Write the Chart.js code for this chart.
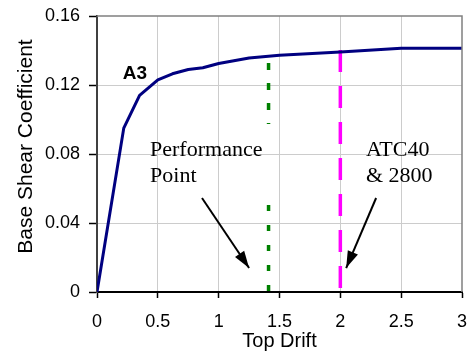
<!DOCTYPE html>
<html>
<head>
<meta charset="utf-8">
<script src="https://cdn.jsdelivr.net/npm/chart.js@4"></script>
<style>
  html, body { margin: 0; padding: 0; background: #fff; }
  canvas { display: block; }
</style>
</head>
<body>
<canvas id="c" width="468" height="358"></canvas>
<script>
// ---- data ----
const drift = [0, 0.22, 0.35, 0.5, 0.62, 0.75, 0.87, 1.0, 1.25, 1.5, 2.0, 2.5, 3.0];
const shear = [0, 0.095, 0.114, 0.123, 0.1265, 0.129, 0.130, 0.1325, 0.1357, 0.1373, 0.1392, 0.1413, 0.1413];

const perfX = [1.41, 1.41];
const perfTopY = [0.1327, 0.0974];
const perfLowY = [0.0504, 0];

const atcX = [2.0, 2.0];
const atcY = [0.1403, 0];

const arrow1X = [0.863, 1.25];
const arrow1Y = [0.0545, 0.0139];
const arrow2X = [2.294, 2.048];
const arrow2Y = [0.0545, 0.0139];

const xTickLabels = ['0', '0.5', '1', '1.5', '2', '2.5', '3'];
const yTickLabels = ['0', '0.04', '0.08', '0.12', '0.16'];

const xTitle = 'Top Drift';
const yTitle = 'Base Shear Coefficient';
const curveLabel = 'A3';
const perfLabel = ['Performance', 'Point'];
const atcLabel = ['ATC40', '& 2800'];
// anchors in data units (left, baseline of first line)
const curveLabelAt = [0.211, 0.1233];
const perfLabelAt = [0.436, 0.0788];
const atcLabelAt = [2.21, 0.0788];

const pts = (xs, ys) => xs.map((x, i) => ({ x: x, y: ys[i] }));

const SANS = "'Liberation Sans', Arial, sans-serif";
const SERIF = "'Liberation Serif', 'Times New Roman', serif";

const annotPlugin = {
  id: 'annot',
  afterDatasetsDraw(chart) {
    const ctx = chart.ctx;
    const xs = chart.scales.x, ys = chart.scales.y;
    const ca = chart.chartArea;
    ctx.save();
    // top and right frame
    ctx.strokeStyle = '#808080';
    ctx.lineWidth = 1.5;
    ctx.beginPath();
    ctx.moveTo(ca.left, ca.top);
    ctx.lineTo(ca.right, ca.top);
    ctx.lineTo(ca.right, ca.bottom);
    ctx.stroke();

    // arrowheads
    const head = (ax, ay) => {
      const x0 = xs.getPixelForValue(ax[0]), y0 = ys.getPixelForValue(ay[0]);
      const x1 = xs.getPixelForValue(ax[1]), y1 = ys.getPixelForValue(ay[1]);
      const ang = Math.atan2(y1 - y0, x1 - x0);
      const L = 17, W = 5.5;
      ctx.fillStyle = '#000';
      ctx.beginPath();
      ctx.moveTo(x1, y1);
      ctx.lineTo(x1 - L * Math.cos(ang) + W * Math.sin(ang), y1 - L * Math.sin(ang) - W * Math.cos(ang));
      ctx.lineTo(x1 - L * Math.cos(ang) - W * Math.sin(ang), y1 - L * Math.sin(ang) + W * Math.cos(ang));
      ctx.closePath();
      ctx.fill();
    };
    head(arrow1X, arrow1Y);
    head(arrow2X, arrow2Y);

    // labels
    ctx.fillStyle = '#000';
    ctx.textBaseline = 'alphabetic';
    ctx.textAlign = 'left';
    ctx.font = 'bold 19px ' + SANS;
    ctx.fillText(curveLabel, xs.getPixelForValue(curveLabelAt[0]), ys.getPixelForValue(curveLabelAt[1]));

    ctx.font = '22px ' + SERIF;
    const lh = 25.8;
    perfLabel.forEach((t, i) => {
      ctx.fillText(t, xs.getPixelForValue(perfLabelAt[0]), ys.getPixelForValue(perfLabelAt[1]) + i * lh);
    });
    atcLabel.forEach((t, i) => {
      ctx.fillText(t, xs.getPixelForValue(atcLabelAt[0]), ys.getPixelForValue(atcLabelAt[1]) + i * lh);
    });

    // y axis title
    ctx.font = '21px ' + SANS;
    ctx.textAlign = 'center';
    ctx.translate(32, (ca.top + ca.bottom) / 2 - 7.5);
    ctx.rotate(-Math.PI / 2);
    ctx.fillText(yTitle, 0, 0);
    ctx.restore();
  }
};

new Chart(document.getElementById('c'), {
  type: 'line',
  data: {
    datasets: [
      { data: pts(perfX, perfTopY), borderColor: '#008000', borderWidth: 3.5, borderDash: [7, 13], pointRadius: 0, borderCapStyle: 'butt' },
      { data: pts(perfX, perfLowY), borderColor: '#008000', borderWidth: 3.5, borderDash: [6, 14], pointRadius: 0, borderCapStyle: 'butt' },
      { data: pts(arrow1X, arrow1Y), borderColor: '#000', borderWidth: 2, pointRadius: 0 },
      { data: pts(arrow2X, arrow2Y), borderColor: '#000', borderWidth: 2, pointRadius: 0 },
      { data: pts(drift, shear), borderColor: '#000080', borderWidth: 3, pointRadius: 0, tension: 0, borderJoinStyle: 'round' },
      { data: pts(atcX, atcY), borderColor: '#FF00FF', borderWidth: 3.5, borderDash: [22, 14], pointRadius: 0, borderCapStyle: 'butt' }
    ]
  },
  options: {
    responsive: false,
    animation: false,
    events: [],
    layout: { padding: { top: 16, right: 6, left: 0, bottom: 0 } },
    plugins: { legend: { display: false }, tooltip: { enabled: false }, title: { display: false } },
    scales: {
      x: {
        type: 'linear', min: 0, max: 3,
        afterFit: (s) => { s.height = 66; s.paddingLeft = 0; s.paddingRight = 0; },
        afterBuildTicks: (s) => { s.ticks = xTickLabels.map(v => ({ value: parseFloat(v) })); },
        ticks: {
          callback: (v, i) => xTickLabels[i],
          color: '#000', font: { family: SANS, size: 18 }, padding: 13, maxRotation: 0, autoSkip: false
        },
        grid: {
          color: (c) => (c.tick && (c.tick.value === 3)) ? 'rgba(0,0,0,0)' : '#cccccc',
          lineWidth: 1, borderDash: [12, 9], tickLength: 6, tickColor: '#000', tickWidth: 1.5
        },
        border: { color: '#000', width: 2 },
        title: { display: true, text: xTitle, color: '#000', font: { family: SANS, size: 20 }, padding: { top: 0, bottom: 5 } }
      },
      y: {
        type: 'linear', min: 0, max: 0.16,
        afterFit: (s) => { s.width = 97; s.paddingTop = 0; s.paddingBottom = 0; },
        afterBuildTicks: (s) => { s.ticks = yTickLabels.map(v => ({ value: parseFloat(v) })); },
        ticks: {
          callback: (v, i) => yTickLabels[i],
          color: '#000', font: { family: SANS, size: 18 }, padding: 9
        },
        grid: {
          color: (c) => (c.tick && (c.tick.value === 0.16)) ? 'rgba(0,0,0,0)' : '#cccccc',
          lineWidth: 1, borderDash: [12, 9], tickLength: 8, tickColor: '#000', tickWidth: 1.5
        },
        border: { color: '#404040', width: 2 }
      }
    }
  },
  plugins: [annotPlugin]
});
</script>
</body>
</html>
